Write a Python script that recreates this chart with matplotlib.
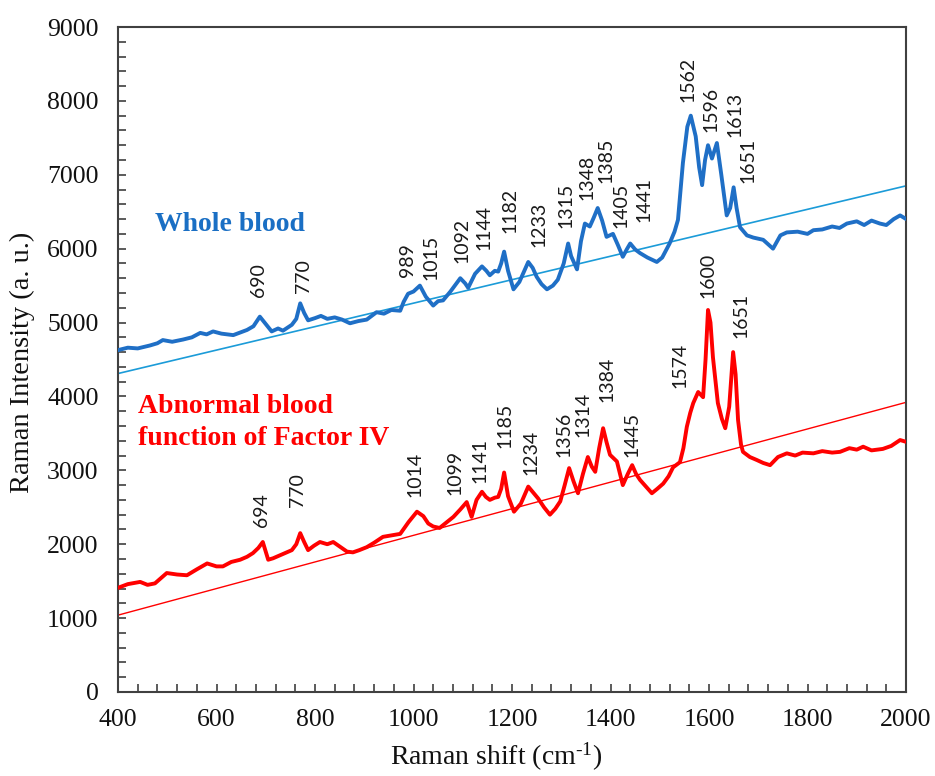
import matplotlib
matplotlib.use("Agg")
import matplotlib.pyplot as plt
from matplotlib.ticker import MultipleLocator

plt.rcParams['font.family'] = ['Liberation Serif', 'DejaVu Serif']
plt.rcParams['mathtext.fontset'] = 'custom'
plt.rcParams['mathtext.rm'] = 'Liberation Serif'
plt.rcParams['mathtext.it'] = 'Liberation Serif:italic'

# ---- data ----
blue_x = [400, 420, 440, 465, 480, 491, 510, 532, 550, 567, 580, 593, 610, 634, 650, 662, 675, 688,
          700, 712, 725, 735, 753, 762, 770, 778, 786, 800, 812, 825, 840, 855, 871, 888, 905, 915,
          925, 940, 955, 973, 980, 989, 1000, 1013, 1025, 1040, 1050, 1060, 1075, 1095, 1105, 1111,
          1125, 1139, 1148, 1155, 1165, 1172, 1178, 1184, 1192, 1203, 1215, 1233, 1242, 1250, 1260,
          1271, 1283, 1293, 1305, 1314, 1320, 1332, 1340, 1348, 1358, 1366, 1374, 1383, 1392, 1405,
          1415, 1425, 1433, 1440, 1450, 1460, 1475, 1494, 1505, 1520, 1530, 1537, 1547, 1556, 1563,
          1573, 1580, 1586, 1592, 1598, 1606, 1616, 1625, 1636, 1643, 1650, 1656, 1663, 1677, 1690,
          1710, 1730, 1745, 1758, 1780, 1800, 1812, 1830, 1850, 1865, 1880, 1900, 1915, 1930, 1947,
          1960, 1975, 1988, 1998]
blue_y = [4627, 4660, 4650, 4690, 4720, 4763, 4740, 4770, 4800, 4860, 4840, 4880, 4850, 4830, 4870,
          4900, 4950, 5080, 4980, 4880, 4920, 4890, 4970, 5050, 5260, 5130, 5030, 5060, 5090, 5050,
          5070, 5040, 4990, 5020, 5040, 5090, 5140, 5120, 5170, 5160, 5280, 5390, 5420, 5500, 5350,
          5230, 5290, 5300, 5420, 5600, 5530, 5470, 5660, 5760, 5700, 5640, 5700, 5690, 5800, 5960,
          5700, 5450, 5550, 5820, 5740, 5620, 5520, 5450, 5500, 5580, 5800, 6070, 5900, 5720, 6100,
          6340, 6300, 6420, 6550, 6380, 6160, 6200, 6050, 5890, 5990, 6070, 5990, 5940, 5880, 5820,
          5880, 6070, 6230, 6390, 7160, 7650, 7800, 7520, 7100, 6860, 7200, 7400, 7220, 7430, 7000,
          6450, 6550, 6830, 6550, 6290, 6180, 6150, 6120, 6000, 6180, 6220, 6230, 6200, 6250, 6260,
          6300, 6280, 6340, 6370, 6320, 6380, 6340, 6320, 6400, 6450, 6410]

red_x = [400, 420, 445, 460, 475, 499, 520, 540, 560, 581, 600, 613, 630, 648, 662, 674, 685, 694,
         700, 705, 715, 729, 740, 753, 762, 770, 778, 786, 798, 810, 825, 837, 850, 865, 877, 890,
         905, 920, 938, 955, 973, 990, 1007, 1020, 1030, 1040, 1053, 1068, 1081, 1095, 1108, 1118,
         1128, 1139, 1147, 1155, 1165, 1172, 1178, 1184, 1192, 1204, 1218, 1233, 1243, 1253, 1265,
         1277, 1288, 1298, 1307, 1316, 1325, 1334, 1344, 1354, 1362, 1369, 1377, 1385, 1392, 1399,
         1413, 1425, 1435, 1444, 1452, 1460, 1472, 1484, 1495, 1507, 1518, 1527, 1541, 1548, 1555,
         1562, 1568, 1578, 1588, 1593, 1598, 1603, 1608, 1618, 1626, 1633, 1641, 1649, 1654, 1659,
         1665, 1669, 1683, 1697, 1710, 1724, 1740, 1758, 1775, 1790, 1812, 1830, 1850, 1866, 1885,
         1900, 1913, 1930, 1953, 1970, 1988, 1998]
red_y = [1410, 1460, 1490, 1450, 1470, 1610, 1590, 1580, 1660, 1740, 1700, 1700, 1760, 1790, 1830,
         1880, 1950, 2030, 1900, 1790, 1810, 1850, 1880, 1920, 2000, 2150, 2030, 1920, 1980, 2030,
         2000, 2030, 1970, 1900, 1890, 1920, 1960, 2020, 2100, 2120, 2140, 2300, 2440, 2380, 2280,
         2240, 2220, 2300, 2370, 2470, 2570, 2370, 2600, 2710, 2640, 2600, 2630, 2640, 2750, 2970,
         2650, 2440, 2550, 2780, 2700, 2620, 2500, 2400, 2480, 2580, 2800, 3030, 2850, 2690, 2950,
         3180, 3050, 2980, 3300, 3570, 3380, 3210, 3120, 2800, 2950, 3070, 2950, 2870, 2780, 2690,
         2750, 2820, 2920, 3040, 3110, 3300, 3590, 3780, 3910, 4060, 3990, 4500, 5170, 5000, 4530,
         3910, 3700, 3570, 3860, 4600, 4300, 3680, 3350, 3250, 3180, 3140, 3100, 3070, 3180, 3230,
         3200, 3240, 3230, 3260, 3240, 3250, 3300, 3280, 3320, 3270, 3290, 3330, 3410, 3390]

blue_base_x = [400, 2000]
blue_base_y = [4310, 6850]
red_base_x = [400, 2000]
red_base_y = [1040, 3920]

blue_labels = ['690', '770', '989', '1015', '1092', '1144', '1182', '1233', '1315', '1348',
               '1385', '1405', '1441', '1562', '1596', '1613', '1651']
blue_lab_x = [686, 776, 987, 1035, 1098, 1143, 1196, 1255, 1309, 1352, 1391, 1421, 1468,
              1557, 1605, 1652, 1679]
blue_lab_y = [5345, 5400, 5615, 5575, 5800, 5980, 6210, 6020, 6280, 6660, 6890, 6280, 6360,
              7980, 7580, 7510, 6890]

red_labels = ['694', '770', '1014', '1099', '1141', '1185', '1234', '1356', '1314', '1384',
              '1445', '1574', '1600', '1651']
red_lab_x = [692, 765, 1003, 1084, 1135, 1186, 1238, 1305, 1344, 1393, 1444, 1541, 1598, 1665]
red_lab_y = [2235, 2500, 2640, 2665, 2830, 3300, 2935, 3180, 3450, 3920, 3180, 4110, 5330, 4790]

x_ticks = [400, 600, 800, 1000, 1200, 1400, 1600, 1800, 2000]
y_ticks = [0, 1000, 2000, 3000, 4000, 5000, 6000, 7000, 8000, 9000]

BLUE = '#1f6fc6'
BLUE_BASE = '#1b9bd8'
RED = '#ff0000'
FRAME = '#404040'

fig = plt.figure(figsize=(9.35, 7.76), dpi=100)
ax = fig.add_axes([118/935, 1-692/776, (906-118)/935, (692-27)/776])

ax.plot(blue_base_x, blue_base_y, color=BLUE_BASE, lw=1.2, zorder=2)
ax.plot(red_base_x, red_base_y, color=RED, lw=1.0, zorder=2)
ax.plot(blue_x, blue_y, color=BLUE, lw=2.8, zorder=3, solid_joinstyle='round')
ax.plot(red_x, red_y, color=RED, lw=2.8, zorder=3, solid_joinstyle='round')

for lab, xx, yy in zip(blue_labels, blue_lab_x, blue_lab_y):
    ax.text(xx, yy, lab, rotation=90, ha='center', va='bottom', fontsize=14,
            family=['Lato', 'DejaVu Sans'], color='#1a1a1a')
for lab, xx, yy in zip(red_labels, red_lab_x, red_lab_y):
    ax.text(xx, yy, lab, rotation=90, ha='center', va='bottom', fontsize=14,
            family=['Lato', 'DejaVu Sans'], color='#1a1a1a')

ax.text(475, 6235, 'Whole blood', color='#1a6fc4', fontsize=20, fontweight='bold',
        ha='left', va='baseline')
ax.text(441, 3775, 'Abnormal blood', color=RED, fontsize=20, fontweight='bold',
        ha='left', va='baseline')
ax.text(441, 3340, 'function of Factor IV', color=RED, fontsize=20, fontweight='bold',
        ha='left', va='baseline')

ax.set_xlim(400, 2000)
ax.set_ylim(0, 9000)
ax.set_xticks(x_ticks)
ax.set_yticks(y_ticks)
ax.xaxis.set_minor_locator(MultipleLocator(40))
ax.yaxis.set_minor_locator(MultipleLocator(200))
ax.tick_params(which='both', direction='in', length=6, width=1.2, color=FRAME,
               labelsize=18.5, labelcolor='#111111')
ax.tick_params(axis='x', which='both', pad=12)
ax.tick_params(axis='y', which='both', pad=14)
for sp in ax.spines.values():
    sp.set_color(FRAME)
    sp.set_linewidth(1.5)

ax.set_xlabel(r'Raman shift (cm$^{\text{-}1}$)', fontsize=20, color='#111111')
ax.set_ylabel('Raman Intensity (a. u.)', fontsize=20.5, color='#111111')
ax.xaxis.set_label_coords((496-118)/788, -0.074)
ax.yaxis.set_label_coords(-0.105, 0.495)

fig.savefig('out.png', dpi=100)
